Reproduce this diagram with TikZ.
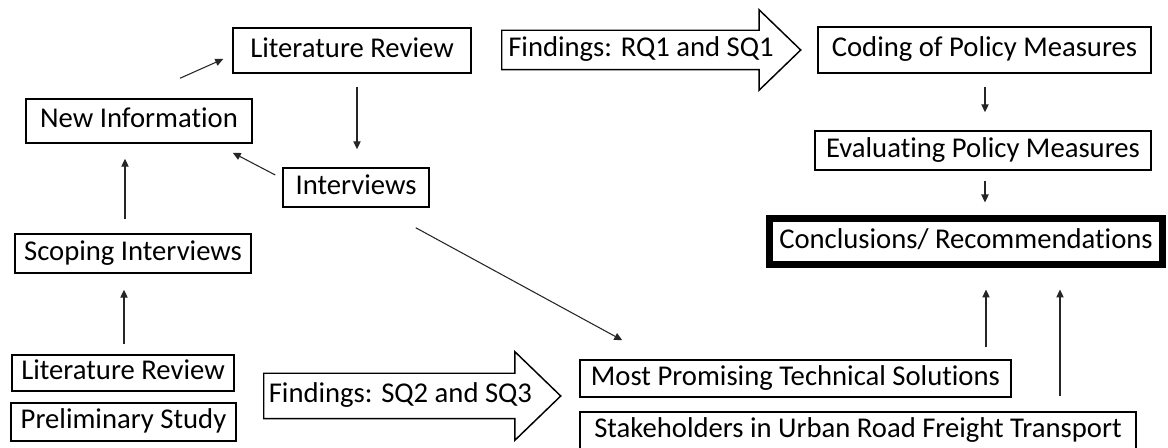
\documentclass[tikz,border=0pt]{standalone}
\usepackage{fontspec}
\setmainfont{Carlito}[Ligatures=NoCommon]
\usetikzlibrary{shapes.arrows,arrows.meta}

\begin{document}
\begin{tikzpicture}[x=0.75pt, y=-0.75pt,
	box/.style={draw, line width=1.1pt, inner sep=2pt, text height=15pt, text depth=4.5pt, font=\fontsize{21.5}{24}\selectfont},
	bigarrow/.style={draw, line width=1.1pt, single arrow, single arrow tip angle=88, single arrow head indent=0pt, inner xsep=2pt, text height=15pt, text depth=4.5pt, font=\fontsize{21.5}{24}\selectfont, anchor=tail},
	link/.style={-{Triangle[length=6pt,width=5.5pt]}, line width=0.8pt, black!85}]
	\useasboundingbox (0,0) rectangle (1168,448);
	\node [box, minimum width=178.5pt, minimum height=33.75pt] (litrev) at (352,50.5) {Literature Review};
	\node [box, minimum width=169.5pt, minimum height=33pt] (newinfo) at (139,121) {New Information};
	\node [box, minimum width=109.5pt, minimum height=29.25pt] (interviews) at (356,187.5) {Interviews};
	\node [box, minimum width=177pt, minimum height=29.25pt] (scoping) at (133,253.5) {Scoping Interviews};
	\node [box, minimum width=166.5pt, minimum height=27pt] (litrevpre) at (123,373) {Literature Review};
	\node [box, minimum width=168.75pt, minimum height=28.5pt] (prelim) at (123.5,422) {Preliminary Study};
	\node [box, minimum width=249.75pt, minimum height=34.5pt] (coding) at (984.5,50) {Coding of Policy Measures};
	\node [box, minimum width=252pt, minimum height=29.25pt] (evaluating) at (983,150.5) {Evaluating Policy Measures};
	\node [box, line width=5.25pt, minimum width=294.75pt, minimum height=34.5pt] (conclusions) at (966,241.5) {Conclusions/ Recommendations};
	\node [box, minimum width=323.25pt, minimum height=27.75pt] (solutions) at (795.5,378.5) {Most Promising Technical Solutions};
	\node [box, minimum width=417pt, minimum height=28.5pt] (stakeholders) at (858,431) {Stakeholders in Urban Road Freight Transport};
	\node [bigarrow, inner ysep=4.5pt, single arrow head extend=15.4pt, minimum height=224.25pt] (findingsA) at (501,50) {Findings: RQ1 and SQ1};
	\node [bigarrow, inner ysep=6.75pt, single arrow head extend=16.1pt, minimum height=222.75pt] (findingsB) at (263,396) {Findings: SQ2 and SQ3};
	\draw [link] ([shift={(41,-20)}]newinfo.north) -- ([shift={(-9,8.5)}]litrev.west);
	\draw [link] ([shift={(5,13)}]litrev.south) -- ([shift={(1,-18)}]interviews.north);
	\draw [link] ([shift={(-7,-12.5)}]interviews.west) -- ([shift={(-20,9)}]newinfo.south east);
	\draw [link] ([shift={(-8,-14)}]scoping.north) -- ([shift={(-14,15)}]newinfo.south);
	\draw [link] ([shift={(1,-10)}]litrevpre.north) -- ([shift={(-9,16)}]scoping.south);
	\draw [link] ([shift={(-14,20)}]interviews.south east) -- ([shift={(43,-19)}]solutions.north west);
	\draw [link] ([shift={(0.5,13)}]coding.south) -- ([shift={(2,-18)}]evaluating.north);
	\draw [link] ([shift={(2,10)}]evaluating.south) -- ([shift={(19,-12.5)}]conclusions.north);
	\draw [link] ([shift={(190.5,-12)}]solutions.north) -- ([shift={(20,21.5)}]conclusions.south);
	\draw [link] ([shift={(202,-15)}]stakeholders.north) -- ([shift={(94,21.5)}]conclusions.south);
\end{tikzpicture}
\end{document}
